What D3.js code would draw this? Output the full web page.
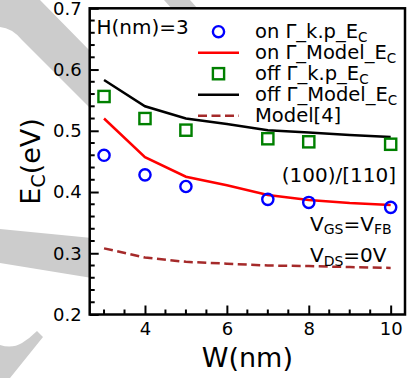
<!DOCTYPE html>
<html>
<head>
<meta charset="utf-8">
<script src="https://cdn.jsdelivr.net/npm/d3@7"></script>
<style>
  body { margin: 0; background: #fff; }
  svg { display: block; font-family: "DejaVu Sans", sans-serif; }
</style>
</head>
<body>
<div id="chart"></div>
<script>
// data
const widthsPts = [3, 4, 5, 7, 8, 10];
const widthsModel = [3, 4, 5, 6, 7, 8, 9, 10];
const onKp = [0.460, 0.428, 0.409, 0.388, 0.383, 0.375];
const offKp = [0.556, 0.520, 0.501, 0.487, 0.482, 0.478];
const onModel = [0.520, 0.457, 0.425, 0.411, 0.395, 0.387, 0.382, 0.379];
const offModel = [0.583, 0.540, 0.520, 0.511, 0.501, 0.497, 0.493, 0.490];
const model4 = [0.308, 0.293, 0.286, 0.283, 0.280, 0.279, 0.2775, 0.276];
const xTicks = [4, 6, 8, 10];
const yTicks = [0.2, 0.3, 0.4, 0.5, 0.6, 0.7];

const W = 409, H = 378;
const margin = { top: 8.3, right: 4, bottom: 63.5, left: 89.7 };

const svg = d3.select("#chart").append("svg")
    .attr("width", W)
    .attr("height", H);

// faint watermark bands behind the axes
const wm = svg.append("g").attr("fill", "#cccccc");
wm.append("path").attr("d", "M0,0 L40,0 L92,53 L92,110 L22,40 Q12,28 0,27 Z");
wm.append("path").attr("d", "M164,0 L190,0 L198,9 L172,9 Z");
wm.append("path").attr("d", "M0,229 L92,238 L92,278 L0,263 Z");
wm.append("path").attr("d", "M0,345 Q12,349 22,343 Q30,338 37,331 L43,337 L10,378 L0,378 Z");

const x = d3.scaleLinear().domain([2.65, 10.35]).range([margin.left, W - margin.right]);
const y = d3.scaleLinear().domain([0.2, 0.7]).range([H - margin.bottom, margin.top]);

// white plot area covers the watermark
svg.append("rect")
    .attr("x", x.range()[0]).attr("y", y.range()[1])
    .attr("width", x.range()[1] - x.range()[0])
    .attr("height", y.range()[0] - y.range()[1])
    .attr("fill", "#fff");

// minor ticks
const xMinor = d3.range(3, 10.01, 0.5).filter(v => !xTicks.includes(v));
const yMinor = d3.range(0.22, 0.7, 0.02).filter(v => !yTicks.some(t => Math.abs(t - v) < 1e-6));

svg.append("g").selectAll("line").data(xMinor).join("line")
    .attr("x1", d => x(d)).attr("x2", d => x(d))
    .attr("y1", y(0.2)).attr("y2", y(0.2) - 5)
    .attr("stroke", "#000").attr("stroke-width", 2);
svg.append("g").selectAll("line").data(yMinor).join("line")
    .attr("y1", d => y(d)).attr("y2", d => y(d))
    .attr("x1", x(2.65)).attr("x2", x(2.65) + 5)
    .attr("stroke", "#000").attr("stroke-width", 2);

// major ticks via axes, drawn inward
const xAxis = svg.append("g")
    .attr("transform", `translate(0,${y(0.2)})`)
    .call(d3.axisBottom(x).tickValues(xTicks).tickSizeInner(-9).tickSizeOuter(0).tickPadding(8).tickFormat(d3.format("d")));
xAxis.select(".domain").remove();
xAxis.selectAll(".tick line").attr("stroke-width", 2);
xAxis.selectAll(".tick text").attr("font-size", 18).attr("font-family", "DejaVu Sans").attr("fill", "#000");

const yAxis = svg.append("g")
    .attr("transform", `translate(${x(2.65)},0)`)
    .call(d3.axisLeft(y).tickValues(yTicks).tickSizeInner(-9).tickSizeOuter(0).tickPadding(8).tickFormat(d3.format(".1f")));
yAxis.select(".domain").remove();
yAxis.selectAll(".tick line").attr("stroke-width", 2);
yAxis.selectAll(".tick text").attr("font-size", 18).attr("font-family", "DejaVu Sans").attr("fill", "#000");

// frame
svg.append("rect")
    .attr("x", x.range()[0]).attr("y", y.range()[1])
    .attr("width", x.range()[1] - x.range()[0])
    .attr("height", y.range()[0] - y.range()[1])
    .attr("fill", "none").attr("stroke", "#000").attr("stroke-width", 2.5);

// lines
const lineGen = d3.line().x(d => x(d[0])).y(d => y(d[1]));
const series = [
    { vals: model4, color: "#a52a2a", dash: "9,4.5" },
    { vals: onModel, color: "#ff0000", dash: null },
    { vals: offModel, color: "#000000", dash: null }
];
series.forEach(s => {
    svg.append("path")
        .datum(widthsModel.map((w, i) => [w, s.vals[i]]))
        .attr("fill", "none")
        .attr("stroke", s.color)
        .attr("stroke-width", 2.5)
        .attr("stroke-dasharray", s.dash)
        .attr("d", lineGen);
});

// markers
svg.append("g").selectAll("circle").data(widthsPts.map((w, i) => [w, onKp[i]])).join("circle")
    .attr("cx", d => x(d[0])).attr("cy", d => y(d[1]))
    .attr("r", 5.6)
    .attr("fill", "none").attr("stroke", "#0000ff").attr("stroke-width", 2.4);

svg.append("g").selectAll("rect").data(widthsPts.map((w, i) => [w, offKp[i]])).join("rect")
    .attr("x", d => x(d[0]) - 5.6).attr("y", d => y(d[1]) - 5.6)
    .attr("width", 11.2).attr("height", 11.2)
    .attr("fill", "none").attr("stroke", "#008000").attr("stroke-width", 2.4);

// legend
const legendItems = [
    { label: "on Γ_k.p_E", kind: "circle", color: "#0000ff" },
    { label: "on Γ_Model_E", kind: "line", color: "#ff0000" },
    { label: "off Γ_k.p_E", kind: "square", color: "#008000" },
    { label: "off Γ_Model_E", kind: "line", color: "#000000" },
    { label: "Model[4]", kind: "dash", color: "#a52a2a", noSub: true }
];
const leg = svg.append("g");
legendItems.forEach((d, i) => {
    const cy = 31.7 + i * 21;
    if (d.kind === "circle") {
        leg.append("circle").attr("cx", 218.5).attr("cy", cy).attr("r", 5.6)
            .attr("fill", "none").attr("stroke", d.color).attr("stroke-width", 2.4);
    } else if (d.kind === "square") {
        leg.append("rect").attr("x", 218.5 - 5.6).attr("y", cy - 5.6).attr("width", 11.2).attr("height", 11.2)
            .attr("fill", "none").attr("stroke", d.color).attr("stroke-width", 2.4);
    } else {
        leg.append("line").attr("x1", 198).attr("x2", 239).attr("y1", cy).attr("y2", cy)
            .attr("stroke", d.color).attr("stroke-width", 2.5)
            .attr("stroke-dasharray", d.kind === "dash" ? "9,4.5" : null);
    }
    const t = leg.append("text").attr("x", 255).attr("y", cy + 6.5)
        .attr("font-size", 19.5).attr("fill", "#000");
    t.append("tspan").text(d.label);
    if (!d.noSub) t.append("tspan").attr("font-size", 13.5).attr("dy", 3.5).text("C");
});

// annotations
svg.append("text").attr("x", 96.5).attr("y", 34).attr("font-size", 20).text("H(nm)=3");
svg.append("text").attr("x", 396).attr("y", 182).attr("font-size", 20)
    .attr("text-anchor", "end").text("(100)/[110]");

const vgs = svg.append("text").attr("x", 310).attr("y", 230.5).attr("font-size", 20);
vgs.append("tspan").text("V");
vgs.append("tspan").attr("font-size", 14).attr("dy", 3.5).text("GS");
vgs.append("tspan").attr("dy", -3.5).text("=V");
vgs.append("tspan").attr("font-size", 14).attr("dy", 3.5).text("FB");

const vds = svg.append("text").attr("x", 310).attr("y", 262).attr("font-size", 20);
vds.append("tspan").text("V");
vds.append("tspan").attr("font-size", 14).attr("dy", 3.5).text("DS");
vds.append("tspan").attr("dy", -3.5).text("=0V");

// axis titles
svg.append("text")
    .attr("x", (x.range()[0] + x.range()[1]) / 2)
    .attr("y", 367)
    .attr("text-anchor", "middle")
    .attr("font-size", 27)
    .text("W(nm)");

const yl = svg.append("text")
    .attr("transform", `translate(40,${(y.range()[0] + y.range()[1]) / 2}) rotate(-90)`)
    .attr("text-anchor", "middle")
    .attr("font-size", 27);
yl.append("tspan").text("E");
yl.append("tspan").attr("font-size", 19).attr("dy", 4.5).text("C");
yl.append("tspan").attr("dy", -4.5).text("(eV)");
</script>
</body>
</html>
